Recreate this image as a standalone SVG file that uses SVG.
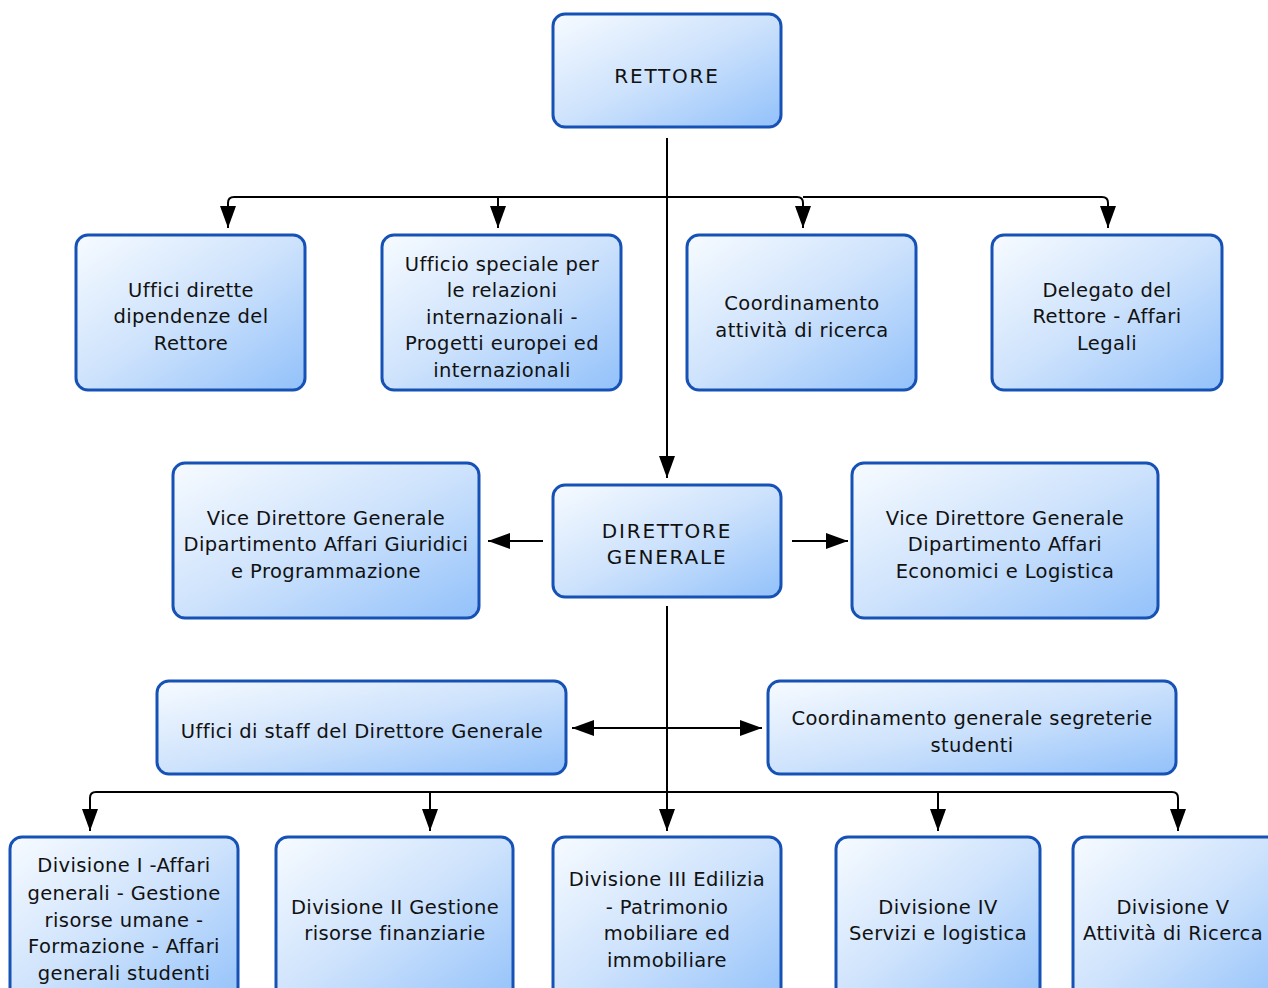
<svg xmlns="http://www.w3.org/2000/svg" width="1268" height="988" viewBox="0 0 1268 988">
<defs>
<linearGradient id="g" x1="0" y1="0" x2="1" y2="1">
<stop offset="0" stop-color="#f7fbff"/>
<stop offset="0.5" stop-color="#cde2fc"/>
<stop offset="1" stop-color="#92c1fa"/>
</linearGradient>
<marker id="ah" markerUnits="userSpaceOnUse" markerWidth="24" markerHeight="18" refX="22" refY="9" orient="auto">
<path d="M0,1 L22,9 L0,17 Z" fill="#000"/>
</marker>
<style>
.box{fill:url(#g);stroke:#1652b5;stroke-width:3}
.t{font-family:"DejaVu Sans",sans-serif;font-size:19.5px;letter-spacing:0.4px;fill:#111;text-anchor:middle}
.cap{font-size:20px;letter-spacing:1.8px}
.c{fill:none;stroke:#000;stroke-width:2;marker-end:url(#ah)}
</style>
</defs>
<rect width="1268" height="988" fill="#fff"/>
<g id="connectors">
<path class="c" d="M667,138 V478"/>
<path class="c" d="M667,197 H234 Q228,197 228,203 V228"/>
<path class="c" d="M498,197 V228"/>
<path class="c" d="M667,197 H797 Q803,197 803,203 V228"/>
<path class="c" d="M803,197 H1102 Q1108,197 1108,203 V228"/>
<path class="c" d="M543,541 H488"/>
<path class="c" d="M792,541 H848"/>
<path class="c" d="M667,606 V831"/>
<path class="c" d="M667,728 H572"/>
<path class="c" d="M667,728 H762"/>
<path class="c" d="M667,792 H96 Q90,792 90,798 V831"/>
<path class="c" d="M430,792 V831"/>
<path class="c" d="M938,792 V831"/>
<path class="c" d="M667,792 H1172 Q1178,792 1178,798 V831"/>
</g>
<g id="rettore"><rect class="box" x="553" y="14" width="228" height="113" rx="12"/><text class="t cap" x="667" y="83">RETTORE</text></g>
<g id="uffici-dirette"><rect class="box" x="76" y="235" width="229" height="155" rx="12"/><text class="t" x="191" y="297">Uffici dirette</text><text class="t" x="191" y="323">dipendenze del</text><text class="t" x="191" y="350">Rettore</text></g>
<g id="ufficio-speciale"><rect class="box" x="382" y="235" width="239" height="155" rx="12"/><text class="t" x="502" y="271">Ufficio speciale per</text><text class="t" x="502" y="297">le relazioni</text><text class="t" x="502" y="324">internazionali -</text><text class="t" x="502" y="350">Progetti europei ed</text><text class="t" x="502" y="377">internazionali</text></g>
<g id="coordinamento-ricerca"><rect class="box" x="687" y="235" width="229" height="155" rx="12"/><text class="t" x="802" y="310">Coordinamento</text><text class="t" x="802" y="337">attività di ricerca</text></g>
<g id="delegato"><rect class="box" x="992" y="235" width="230" height="155" rx="12"/><text class="t" x="1107" y="297">Delegato del</text><text class="t" x="1107" y="323">Rettore - Affari</text><text class="t" x="1107" y="350">Legali</text></g>
<g id="direttore-generale"><rect class="box" x="553" y="485" width="228" height="112" rx="12"/><text class="t cap" x="667" y="538">DIRETTORE</text><text class="t cap" x="667" y="564">GENERALE</text></g>
<g id="vdg-giuridici"><rect class="box" x="173" y="463" width="306" height="155" rx="12"/><text class="t" x="326" y="525">Vice Direttore Generale</text><text class="t" x="326" y="551">Dipartimento Affari Giuridici</text><text class="t" x="326" y="578">e Programmazione</text></g>
<g id="vdg-economici"><rect class="box" x="852" y="463" width="306" height="155" rx="12"/><text class="t" x="1005" y="525">Vice Direttore Generale</text><text class="t" x="1005" y="551">Dipartimento Affari</text><text class="t" x="1005" y="578">Economici e Logistica</text></g>
<g id="uffici-staff"><rect class="box" x="157" y="681" width="409" height="93" rx="12"/><text class="t" x="362" y="738">Uffici di staff del Direttore Generale</text></g>
<g id="segreterie"><rect class="box" x="768" y="681" width="408" height="93" rx="12"/><text class="t" x="972" y="725">Coordinamento generale segreterie</text><text class="t" x="972" y="752">studenti</text></g>
<g id="divisione-1"><rect class="box" x="10" y="837" width="228" height="170" rx="12"/><text class="t" x="124" y="872">Divisione I -Affari</text><text class="t" x="124" y="900">generali - Gestione</text><text class="t" x="124" y="927">risorse umane -</text><text class="t" x="124" y="953">Formazione - Affari</text><text class="t" x="124" y="980">generali studenti</text></g>
<g id="divisione-2"><rect class="box" x="276" y="837" width="237" height="170" rx="12"/><text class="t" x="395" y="914">Divisione II Gestione</text><text class="t" x="395" y="940">risorse finanziarie</text></g>
<g id="divisione-3"><rect class="box" x="553" y="837" width="228" height="170" rx="12"/><text class="t" x="667" y="886">Divisione III Edilizia</text><text class="t" x="667" y="914">- Patrimonio</text><text class="t" x="667" y="940">mobiliare ed</text><text class="t" x="667" y="967">immobiliare</text></g>
<g id="divisione-4"><rect class="box" x="836" y="837" width="204" height="170" rx="12"/><text class="t" x="938" y="914">Divisione IV</text><text class="t" x="938" y="940">Servizi e logistica</text></g>
<g id="divisione-5"><rect class="box" x="1073" y="837" width="210" height="170" rx="12"/><text class="t" x="1173" y="914">Divisione V</text><text class="t" x="1173" y="940">Attività di Ricerca</text></g>
</svg>
